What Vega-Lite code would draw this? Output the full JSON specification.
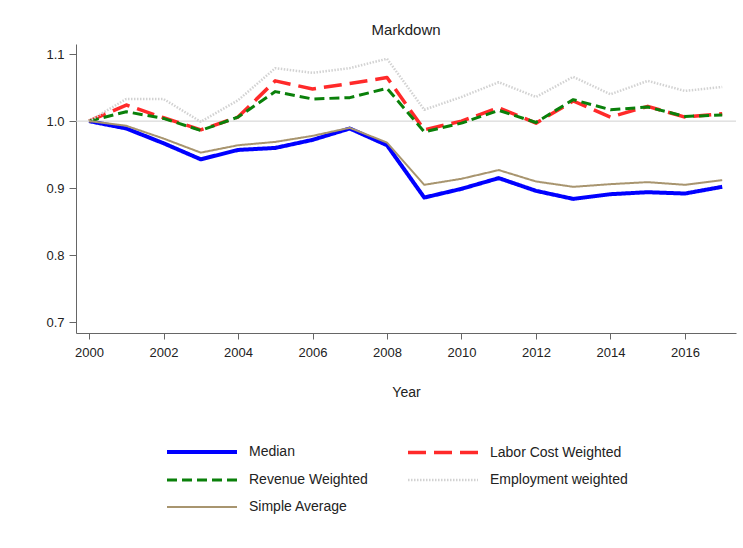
{
  "$schema": "https://vega.github.io/schema/vega-lite/v6.json",
  "autosize": "none",
  "width": 660,
  "height": 289,
  "padding": {"left": 76, "top": 44, "right": 7, "bottom": 215},
  "background": "white",
  "config": {
    "view": {"stroke": null},
    "font": "Liberation Sans"
  },
  "title": {"text": "Markdown", "fontSize": 15, "fontWeight": "normal", "color": "#222", "offset": 6, "anchor": "middle", "font": "Liberation Sans"},
  "datasets": {
    "series": [
      {"year": 2000, "series": "Median", "value": 1.0},
      {"year": 2001, "series": "Median", "value": 0.989},
      {"year": 2002, "series": "Median", "value": 0.967},
      {"year": 2003, "series": "Median", "value": 0.943},
      {"year": 2004, "series": "Median", "value": 0.957},
      {"year": 2005, "series": "Median", "value": 0.960},
      {"year": 2006, "series": "Median", "value": 0.972},
      {"year": 2007, "series": "Median", "value": 0.989},
      {"year": 2008, "series": "Median", "value": 0.964},
      {"year": 2009, "series": "Median", "value": 0.886},
      {"year": 2010, "series": "Median", "value": 0.899},
      {"year": 2011, "series": "Median", "value": 0.915},
      {"year": 2012, "series": "Median", "value": 0.896},
      {"year": 2013, "series": "Median", "value": 0.884},
      {"year": 2014, "series": "Median", "value": 0.891},
      {"year": 2015, "series": "Median", "value": 0.894},
      {"year": 2016, "series": "Median", "value": 0.892},
      {"year": 2017, "series": "Median", "value": 0.902},
      {"year": 2000, "series": "Labor Cost Weighted", "value": 1.0},
      {"year": 2001, "series": "Labor Cost Weighted", "value": 1.024},
      {"year": 2002, "series": "Labor Cost Weighted", "value": 1.005},
      {"year": 2003, "series": "Labor Cost Weighted", "value": 0.987},
      {"year": 2004, "series": "Labor Cost Weighted", "value": 1.006},
      {"year": 2005, "series": "Labor Cost Weighted", "value": 1.060},
      {"year": 2006, "series": "Labor Cost Weighted", "value": 1.048},
      {"year": 2007, "series": "Labor Cost Weighted", "value": 1.056},
      {"year": 2008, "series": "Labor Cost Weighted", "value": 1.065},
      {"year": 2009, "series": "Labor Cost Weighted", "value": 0.987},
      {"year": 2010, "series": "Labor Cost Weighted", "value": 1.000},
      {"year": 2011, "series": "Labor Cost Weighted", "value": 1.020},
      {"year": 2012, "series": "Labor Cost Weighted", "value": 0.997},
      {"year": 2013, "series": "Labor Cost Weighted", "value": 1.030},
      {"year": 2014, "series": "Labor Cost Weighted", "value": 1.006},
      {"year": 2015, "series": "Labor Cost Weighted", "value": 1.022},
      {"year": 2016, "series": "Labor Cost Weighted", "value": 1.006},
      {"year": 2017, "series": "Labor Cost Weighted", "value": 1.011},
      {"year": 2000, "series": "Revenue Weighted", "value": 1.0},
      {"year": 2001, "series": "Revenue Weighted", "value": 1.014},
      {"year": 2002, "series": "Revenue Weighted", "value": 1.004},
      {"year": 2003, "series": "Revenue Weighted", "value": 0.986},
      {"year": 2004, "series": "Revenue Weighted", "value": 1.006},
      {"year": 2005, "series": "Revenue Weighted", "value": 1.044},
      {"year": 2006, "series": "Revenue Weighted", "value": 1.033},
      {"year": 2007, "series": "Revenue Weighted", "value": 1.035},
      {"year": 2008, "series": "Revenue Weighted", "value": 1.049},
      {"year": 2009, "series": "Revenue Weighted", "value": 0.984},
      {"year": 2010, "series": "Revenue Weighted", "value": 0.997},
      {"year": 2011, "series": "Revenue Weighted", "value": 1.016},
      {"year": 2012, "series": "Revenue Weighted", "value": 0.998},
      {"year": 2013, "series": "Revenue Weighted", "value": 1.032},
      {"year": 2014, "series": "Revenue Weighted", "value": 1.017},
      {"year": 2015, "series": "Revenue Weighted", "value": 1.021},
      {"year": 2016, "series": "Revenue Weighted", "value": 1.007},
      {"year": 2017, "series": "Revenue Weighted", "value": 1.009},
      {"year": 2000, "series": "Employment weighted", "value": 1.0},
      {"year": 2001, "series": "Employment weighted", "value": 1.033},
      {"year": 2002, "series": "Employment weighted", "value": 1.033},
      {"year": 2003, "series": "Employment weighted", "value": 0.999},
      {"year": 2004, "series": "Employment weighted", "value": 1.031},
      {"year": 2005, "series": "Employment weighted", "value": 1.079},
      {"year": 2006, "series": "Employment weighted", "value": 1.072},
      {"year": 2007, "series": "Employment weighted", "value": 1.079},
      {"year": 2008, "series": "Employment weighted", "value": 1.093},
      {"year": 2009, "series": "Employment weighted", "value": 1.017},
      {"year": 2010, "series": "Employment weighted", "value": 1.036},
      {"year": 2011, "series": "Employment weighted", "value": 1.058},
      {"year": 2012, "series": "Employment weighted", "value": 1.036},
      {"year": 2013, "series": "Employment weighted", "value": 1.066},
      {"year": 2014, "series": "Employment weighted", "value": 1.040},
      {"year": 2015, "series": "Employment weighted", "value": 1.060},
      {"year": 2016, "series": "Employment weighted", "value": 1.045},
      {"year": 2017, "series": "Employment weighted", "value": 1.051},
      {"year": 2000, "series": "Simple Average", "value": 1.0},
      {"year": 2001, "series": "Simple Average", "value": 0.993},
      {"year": 2002, "series": "Simple Average", "value": 0.974},
      {"year": 2003, "series": "Simple Average", "value": 0.953},
      {"year": 2004, "series": "Simple Average", "value": 0.964},
      {"year": 2005, "series": "Simple Average", "value": 0.969},
      {"year": 2006, "series": "Simple Average", "value": 0.978},
      {"year": 2007, "series": "Simple Average", "value": 0.990},
      {"year": 2008, "series": "Simple Average", "value": 0.968},
      {"year": 2009, "series": "Simple Average", "value": 0.905},
      {"year": 2010, "series": "Simple Average", "value": 0.914},
      {"year": 2011, "series": "Simple Average", "value": 0.927},
      {"year": 2012, "series": "Simple Average", "value": 0.910},
      {"year": 2013, "series": "Simple Average", "value": 0.902},
      {"year": 2014, "series": "Simple Average", "value": 0.906},
      {"year": 2015, "series": "Simple Average", "value": 0.909},
      {"year": 2016, "series": "Simple Average", "value": 0.905},
      {"year": 2017, "series": "Simple Average", "value": 0.912}
    ]
  },
  "layer": [
    {
      "data": {"values": [{"ref": 1.0}]},
      "mark": {"type": "rule", "color": "#d0d0d0", "strokeWidth": 1},
      "encoding": {"y": {"field": "ref", "type": "quantitative"}}
    },
    {
      "data": {"name": "series"},
      "mark": {"type": "line", "strokeJoin": "round"},
      "encoding": {
        "x": {
          "field": "year", "type": "quantitative",
          "scale": {"domain": [1999.65, 2017.37], "nice": false, "zero": false},
          "axis": {
            "title": "Year", "values": [2000, 2002, 2004, 2006, 2008, 2010, 2012, 2014, 2016],
            "format": "d", "grid": false, "domainColor": "#666", "tickColor": "#666",
            "tickSize": 6, "labelPadding": 7, "labelFontSize": 13, "labelColor": "#222",
            "titleFontSize": 14, "titleFontWeight": "normal", "titleColor": "#222", "titlePadding": 26,
            "labelFont": "Liberation Sans", "titleFont": "Liberation Sans"
          }
        },
        "y": {
          "field": "value", "type": "quantitative",
          "scale": {"domain": [0.684, 1.115], "nice": false, "zero": false},
          "axis": {
            "title": null, "values": [0.7, 0.8, 0.9, 1.0, 1.1], "format": ".1f", "grid": false,
            "domainColor": "#666", "tickColor": "#666", "tickSize": 7, "labelPadding": 5,
            "labelFontSize": 13, "labelColor": "#222", "labelFont": "Liberation Sans"
          }
        },
        "color": {
          "field": "series", "type": "nominal",
          "scale": {
            "domain": ["Median", "Labor Cost Weighted", "Revenue Weighted", "Employment weighted", "Simple Average"],
            "range": ["#0000ff", "#ff2a2a", "#0a800a", "#d2d2d2", "#a8956f"]
          },
          "legend": {
            "title": null, "orient": "none", "legendX": 117, "legendY": 399, "columns": 2,
            "direction": "horizontal",
            "symbolType": "M-5,0H5", "symbolSize": 196, "labelFontSize": 14, "labelColor": "#222",
            "labelFont": "Liberation Sans", "labelOffset": 38, "columnPadding": 33, "rowPadding": 11.5,
            "labelLimit": 300
          }
        },
        "strokeDash": {
          "field": "series", "type": "nominal",
          "scale": {
            "domain": ["Median", "Labor Cost Weighted", "Revenue Weighted", "Employment weighted", "Simple Average"],
            "range": [[1, 0], [18, 8], [10, 5], [1.5, 1.5], [1, 0]]
          }
        },
        "strokeWidth": {
          "field": "series", "type": "nominal",
          "scale": {
            "domain": ["Median", "Labor Cost Weighted", "Revenue Weighted", "Employment weighted", "Simple Average"],
            "range": [4, 2, 4, 3, 2.2]
          }
        }
      }
    }
  ]
}
